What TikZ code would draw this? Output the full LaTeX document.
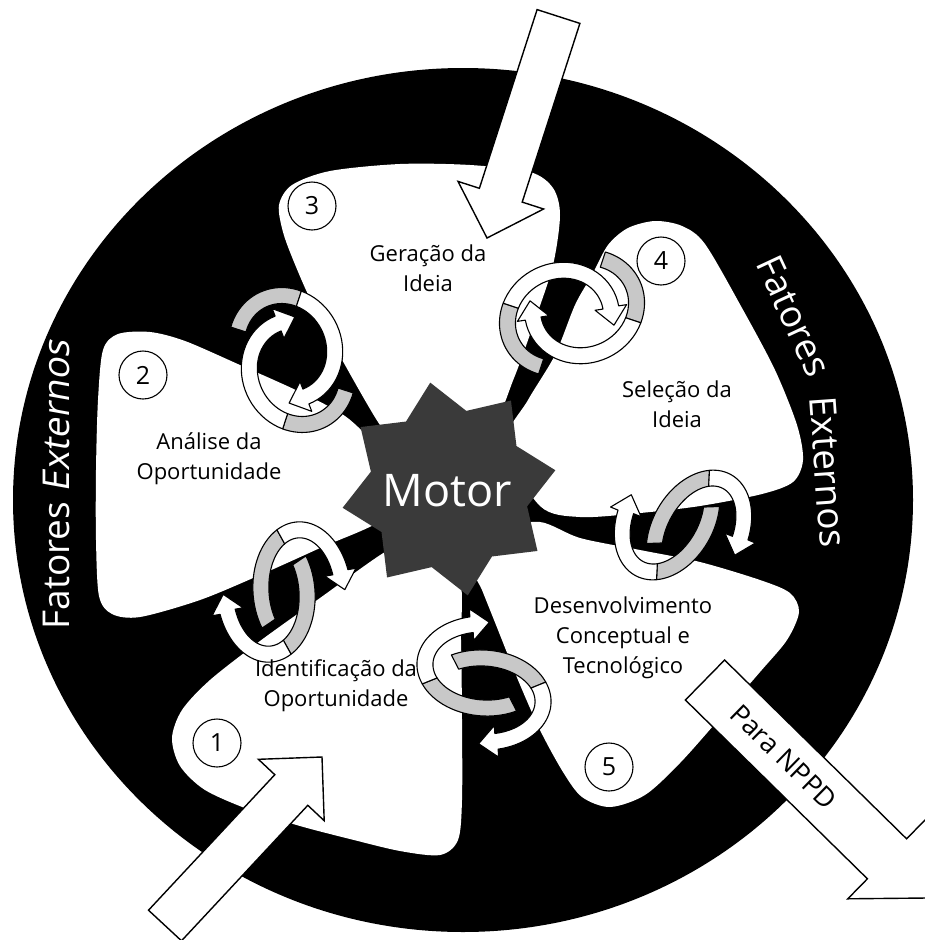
\documentclass[tikz,border=0pt]{standalone}
\usepackage{fontspec}
\setmainfont{Open Sans}
\newfontfamily\slantfont[FakeSlant=0.18]{Open Sans}
\definecolor{ringgrey}{RGB}{200,200,200}
\definecolor{motorgrey}{RGB}{58,58,58}

\tikzset{
  ringline/.style={draw=black, line width=1.1pt, line join=round},
  bigarrow/.style={draw=black, fill=white, line width=1.4pt, line join=miter},
  numcirc/.style={circle, draw=black, fill=white, line width=1.1pt, minimum size=48pt, inner sep=0pt, font=\fontsize{25}{25}\selectfont},
  stagetext/.style={align=center, font=\fontsize{22}{30}\selectfont, text=black},
  outertext/.style={text=white, font=\fontsize{37}{37}\selectfont, inner sep=0pt},
}

% ribbon geometry of one looped arrow (local frame of a ring)
\def\rgW{8}   % half width of the ribbon
\def\rgH{16}  % half width of the arrow head
\def\rgL{18}  % length of the arrow head

% grey (inner face) part of one arrow
\newcommand\greypart{%
  \filldraw[ringline, fill=ringgrey]
    plot[domain=\rgS:\rgT, samples=24] ({(\rgA+\rgW)*cos(\x)}, {\rgD+(\rgB+\rgW)*sin(\x)})
    -- plot[domain=\rgT:\rgS, samples=24] ({(\rgA-\rgW)*cos(\x)}, {\rgD+(\rgB-\rgW)*sin(\x)})
    -- cycle;}

% white (outer face) part of one arrow, ending in its head
\newcommand\whitepart{%
  \pgfmathsetmacro\rgMx{\rgA*cos(\rgE)}%
  \pgfmathsetmacro\rgMy{\rgD+\rgB*sin(\rgE)}%
  \pgfmathsetmacro\rgTx{\rgA*(cos(\rgE-1)-cos(\rgE+1))}%
  \pgfmathsetmacro\rgTy{\rgB*(sin(\rgE-1)-sin(\rgE+1))}%
  \pgfmathsetmacro\rgTl{veclen(\rgTx,\rgTy)}%
  \pgfmathsetmacro\rgUx{\rgTx/\rgTl}%
  \pgfmathsetmacro\rgUy{\rgTy/\rgTl}%
  \filldraw[ringline, fill=white]
    plot[domain=\rgT:\rgE, samples=30] ({(\rgA+\rgW)*cos(\x)}, {\rgD+(\rgB+\rgW)*sin(\x)})
    -- ({\rgMx-\rgH*\rgUy}, {\rgMy+\rgH*\rgUx})
    -- ({\rgMx+\rgL*\rgUx}, {\rgMy+\rgL*\rgUy})
    -- ({\rgMx+\rgH*\rgUy}, {\rgMy-\rgH*\rgUx})
    -- plot[domain=\rgE:\rgT, samples=30] ({(\rgA-\rgW)*cos(\x)}, {\rgD+(\rgB-\rgW)*sin(\x)})
    -- cycle;}

% a ring of two arrows chasing each other: centre x, centre y (down), axis angle
\newcommand\drawring[3]{%
  \foreach \rr in {0,180}{\begin{scope}[shift={(#1,-#2)},rotate=#3+\rr]\greypart\end{scope}}%
  \foreach \rr in {0,180}{\begin{scope}[shift={(#1,-#2)},rotate=#3+\rr]\whitepart\end{scope}}}

\begin{document}
\begin{tikzpicture}[x=1pt,y=1pt]
\useasboundingbox (0,0) rectangle (925,-940);
\fill[white] (0,0) rectangle (925,-940);

% outer band of external factors
\fill[black] (463,-500) ellipse [x radius=450, y radius=432];

% the five stages
\fill[white] plot[smooth cycle, tension=0.5] coordinates {
  (279,-205) (292,-185) (330,-171) (400,-164) (470,-165) (530,-172) (553,-188)
  (560,-215) (553,-265) (535,-320) (514,-378) (490,-430) (440,-450) (400,-440)
  (382,-428) (345,-365) (313,-305) (294,-262) (283,-232)};
\fill[white] plot[smooth cycle, tension=0.5] coordinates {
  (118,-334) (150,-332) (185,-341) (240,-365) (300,-392) (345,-416) (375,-445)
  (400,-480) (385,-518) (320,-548) (260,-575) (200,-600) (140,-617) (112,-614)
  (99,-596) (96,-540) (96,-470) (98,-400) (103,-350)};
\fill[white] plot[smooth cycle, tension=0.5] coordinates {
  (410,-545) (458,-575) (461,-640) (462,-720) (462,-800) (458,-840) (440,-855)
  (400,-851) (350,-839) (300,-826) (250,-810) (205,-790) (180,-766) (172,-738)
  (182,-710) (210,-680) (260,-641) (320,-598) (385,-552)};
\fill[white] plot[smooth cycle, tension=0.5] coordinates {
  (505,-445) (528,-400) (555,-355) (575,-305) (592,-275) (608,-245) (628,-228)
  (655,-221) (682,-226) (705,-244) (742,-308) (775,-370) (797,-425) (803,-460)
  (793,-482) (762,-494) (700,-506) (640,-513) (580,-517) (540,-506)};
\fill[white] plot[smooth cycle, tension=0.5] coordinates {
  (500,-530) (540,-522) (580,-538) (640,-550) (700,-562) (760,-580) (790,-593)
  (799,-612) (787,-640) (760,-672) (720,-718) (680,-763) (645,-795) (610,-807)
  (582,-797) (563,-772) (540,-730) (518,-680) (498,-630) (482,-590) (470,-560)};

% the engine in the middle
\begin{scope}[shift={(449,-489)}]
  \fill[motorgrey] (10:108) -- (32.5:80) -- (55:108) -- (77.5:80) -- (100:108)
    -- (122.5:80) -- (145:108) -- (167.5:80) -- (190:108) -- (212.5:80)
    -- (235:108) -- (257.5:80) -- (280:108) -- (302.5:80) -- (325:108)
    -- (347.5:80) -- cycle;
\end{scope}
\node[text=white, font=\fontsize{45}{45}\selectfont] (motor) at (447,-491) {Motor};

% looped arrows between neighbouring stages
\def\rgA{61}\def\rgB{41}\def\rgD{18}\def\rgS{300}\def\rgT{205}\def\rgE{105}
\drawring{284}{592}{94}
\def\rgA{60}\def\rgB{42}\def\rgD{17}
\drawring{484}{683}{-3}
\def\rgA{59}\def\rgB{40}\def\rgD{18}
\drawring{683}{525}{62}
\def\rgA{48}\def\rgB{53}\def\rgD{-14}\def\rgS{315}\def\rgT{225}\def\rgE{85}
\drawring{292}{360}{27}
\def\rgE{75}
\drawring{572}{313}{-63.4}

% stage names
\node[stagetext] (s3) at (428,-268) {Geração da\\Ideia};
\node[stagetext] (s2) at (209,-459) {Análise da\\Oportunidade};
\node[stagetext] (s4) at (677,-404) {Seleção da\\Ideia};
\node[stagetext] (s1) at (336,-686) {Identificação da\\Oportunidade};
\node[stagetext] (s5) at (623,-638) {Desenvolvimento\\Conceptual e\\Tecnológico};

% stage numbers
\node[numcirc] (n1) at (217,-743) {1};
\node[numcirc] (n2) at (143,-375) {2};
\node[numcirc] (n3) at (312,-206) {3};
\node[numcirc] (n4) at (661,-261) {4};
\node[numcirc] (n5) at (609,-767) {5};

% external factors
\node[outertext, rotate=90] (fe1) at (56,-485) {Fatores {\slantfont Externos}};
\node[outertext, rotate=-65] (fe2a) at (794,-316) {Fatores};
\node[outertext, rotate=-86] (fe2b) at (828,-472) {Externos};

% inputs and output
\draw[bigarrow] (537.1,-9.6) -- (579.9,-23.4) -- (522.2,-202.1) -- (543.6,-209)
  -- (487,-238) -- (458,-181.4) -- (479.4,-188.3) -- cycle;
\draw[bigarrow] (148.5,-910.2) -- (274.8,-774.7) -- (258.4,-759.3) -- (322,-757)
  -- (324.2,-820.7) -- (307.8,-805.3) -- (181.5,-940.8) -- cycle;
\draw[bigarrow] (724.6,-660) -- (906.6,-838.8) -- (926.2,-818.8) -- (927,-898)
  -- (847.8,-898.8) -- (867.4,-878.8) -- (685.4,-700) -- cycle;
\node[font=\fontsize{27}{27}\selectfont, rotate=-44.4] (nppd) at (784,-757) {Para NPPD};
\end{tikzpicture}
\end{document}
